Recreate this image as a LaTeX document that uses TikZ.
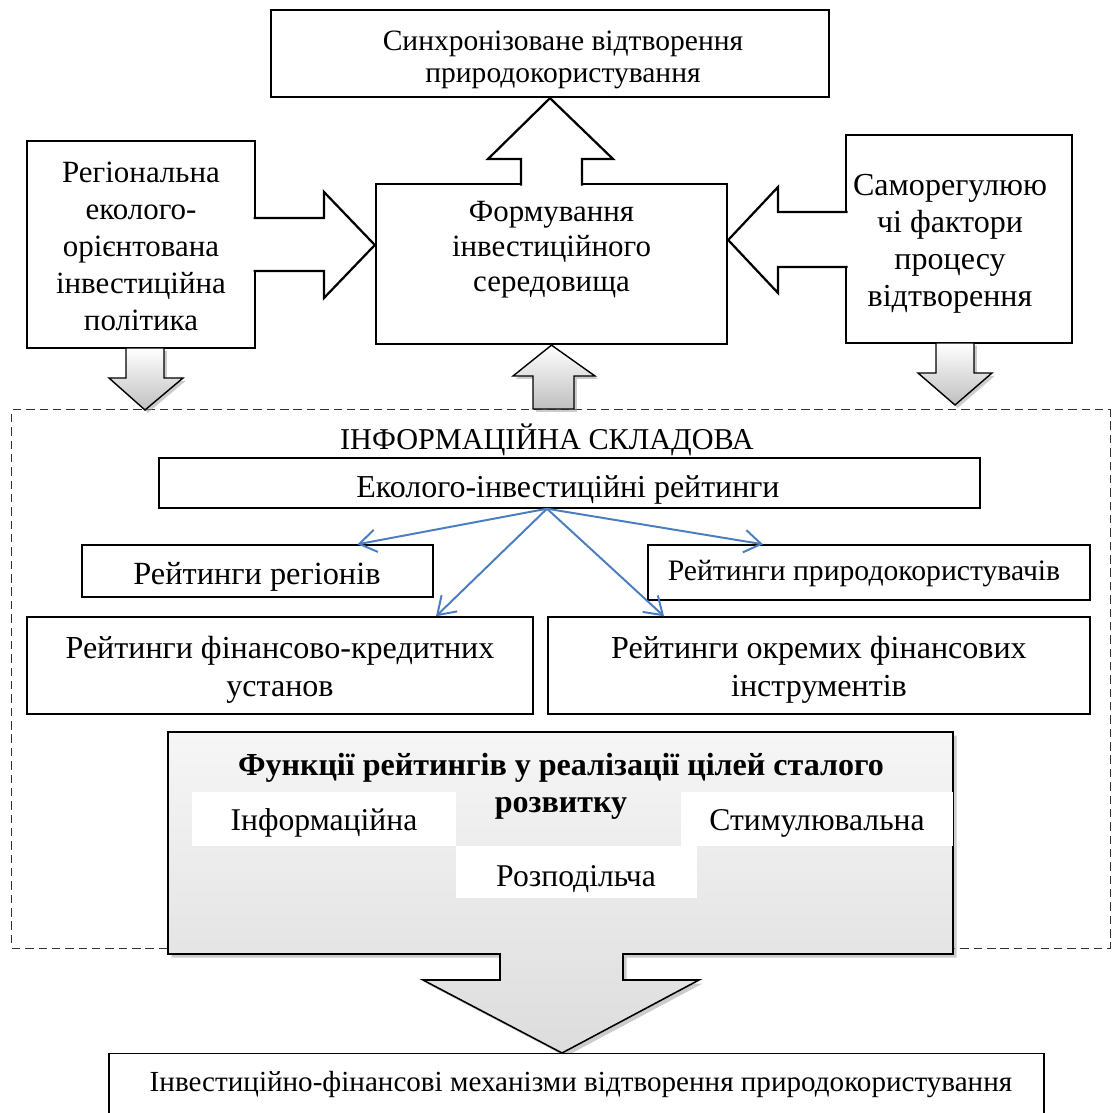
\documentclass[tikz,border=0pt]{standalone}
\usepackage{fontspec}
\setmainfont{Liberation Serif}
\usetikzlibrary{positioning,calc,arrows.meta,shadows}
\definecolor{arrblue}{RGB}{74,126,193}
\tikzset{font=\fontsize{21.5}{25}\selectfont}

\begin{document}
\begin{tikzpicture}[x=0.025cm, y=-0.025cm,
	box/.style={draw, line width=1.6pt, fill=white, inner sep=0pt},
	thinbox/.style={draw, line width=1pt, fill=white, inner sep=0pt},
	txt/.style={align=center, inner sep=0pt},
	whitebox/.style={fill=white, inner sep=0pt},
	fat/.style={draw, line width=1.6pt, fill=white, line join=miter},
	grayarr/.style={draw, line width=1pt, top color=white, bottom color=gray!50,
		drop shadow={shadow xshift=2pt, shadow yshift=-2pt, fill=gray!80, opacity=0.5}},
	funcshape/.style={draw, line width=1.1pt, top color=gray!7, bottom color=gray!27,
		drop shadow={shadow xshift=2.5pt, shadow yshift=-2.5pt, fill=gray!80, opacity=0.5}},
	blue arrow/.style={draw=arrblue, line width=1.4pt, -{Straight Barb[length=12pt,width=16pt]}},
	big/.style={font=\fontsize{22}{26.3}\selectfont}]

	\useasboundingbox (0,0) rectangle (1112,1113);
	\clip (0,0) rectangle (1112,1113);

	\node[draw=black!80, line width=0.7pt, dash pattern=on 6pt off 3.5pt, minimum width=27.45cm, minimum height=13.45cm, inner sep=0pt] (info) at (561,679) {};

	\node[box, minimum width=13.95cm, minimum height=2.175cm] (sync) at (550,53.5) {};
	\node[txt, font=\fontsize{21}{22.5}\selectfont] (synctxt) at (563,60) {Синхронізоване відтворення\\природокористування};
	\node[box, minimum width=8.775cm, minimum height=4cm] (form) at (551.5,264) {};
	\node[txt, font=\fontsize{22}{24.8}\selectfont] (formtxt) at (551.5,250) {Формування\\інвестиційного\\середовища};
	\node[box, minimum width=5.7cm, minimum height=5.175cm] (polit) at (141,244.5) {};
	\node[txt, big] (polittxt) at (141,246) {Регіональна\\еколого-\\орієнтована\\інвестиційна\\політика};
	\node[box, minimum width=5.65cm, minimum height=5.2cm] (selfreg) at (959,239) {};
	\node[txt, font=\fontsize{22.8}{26.3}\selectfont] (selfregtxt) at (950,244) {Саморегулюю\\чі фактори\\процесу\\відтворення};

	\draw[fat] (521,185.5) -- (521,159) -- (488,159) -- (sync.south) -- (613,159) -- (582,159) -- (582,185.5);
	\draw[fat] (253.5,218) -- (324,218) -- (324,192) -- ($(form.west)+(0,-19)$) -- (324,298) -- (324,271) -- (253.5,271);
	\draw[fat] (847.5,212) -- (778,212) -- (778,187) -- ($(form.east)+(0,-24)$) -- (778,293) -- (778,267) -- (847.5,267);

	\draw[grayarr] (126,348) -- (126,378) -- (109,378) -- (145,410) -- (183,378) -- (164,378) -- (164,348) -- cycle;
	\draw[grayarr] (936,343) -- (936,373) -- (918,373) -- (955,405) -- (992,373) -- (974,373) -- (974,343) -- cycle;
	\draw[grayarr] (533,409) -- (533,376) -- (513,376) -- (form.south) -- (595,376) -- (574,376) -- (574,409) -- cycle;

	\node[txt] (infotitle) at (547,440) {ІНФОРМАЦІЙНА СКЛАДОВА};
	\node[thinbox, minimum width=20.525cm, minimum height=1.25cm] (eco) at (569.5,483) {};
	\node[txt, font=\fontsize{22.7}{25}\selectfont] (ecotxt) at (568,490) {Еколого-інвестиційні рейтинги};
	\node[thinbox, minimum width=8.775cm, minimum height=1.3cm] (reg) at (257.5,571) {};
	\node[txt, font=\fontsize{23}{25}\selectfont] (regtxt) at (257,577) {Рейтинги регіонів};
	\node[thinbox, minimum width=11.05cm, minimum height=1.375cm] (users) at (869,572.5) {};
	\node[txt, font=\fontsize{21.1}{25}\selectfont] (userstxt) at (864,574) {Рейтинги природокористувачів};
	\node[thinbox, minimum width=12.65cm, minimum height=2.425cm] (fin) at (280,665.5) {};
	\node[txt, font=\fontsize{22.8}{27}\selectfont] (fintxt) at (280,670) {Рейтинги фінансово-кредитних\\установ};
	\node[thinbox, minimum width=13.55cm, minimum height=2.425cm] (instr) at (819,665.5) {};
	\node[txt, font=\fontsize{22.8}{27}\selectfont] (instrtxt) at (819,670) {Рейтинги окремих фінансових\\інструментів};

	\coordinate (hub) at ($(eco.south)+(-22.5,0)$);
	\foreach \t/\d in {reg/100, fin/156, users/-106, instr/-155}
		\draw[blue arrow] (hub) -- ($(\t.north)+(\d,0)$);

	\path[funcshape] (168,732) -- (953,732) -- (953,954) -- (623,954) -- (623,980) -- (699,980) -- (562,1053) -- (423,980) -- (500,980) -- (500,954) -- (168,954) -- cycle;
	\node[txt, font=\bfseries\fontsize{22.8}{26.5}\selectfont] (functitle) at (561,786) {Функції рейтингів у реалізації цілей сталого\\розвитку};
	\node[whitebox, minimum width=6.6cm, minimum height=1.35cm] (inf) at (324,819) {};
	\node[txt, font=\fontsize{22.5}{25}\selectfont] (inftxt) at (324,823) {Інформаційна};
	\node[whitebox, minimum width=6.8cm, minimum height=1.35cm] (stim) at (817,819) {};
	\node[txt, font=\fontsize{22.5}{25}\selectfont] (stimtxt) at (817,823) {Стимулювальна};
	\node[whitebox, minimum width=6.025cm, minimum height=1.3cm] (distr) at (576.5,872) {};
	\node[txt, font=\fontsize{22.5}{25}\selectfont] (distrtxt) at (576,879) {Розподільча};

	\node[thinbox, minimum width=23.375cm, minimum height=2.2cm, anchor=north] (mech) at (576.5,1053) {};
	\node[txt, font=\fontsize{20.7}{25}\selectfont] (mechtxt) at (581,1085) {Інвестиційно-фінансові механізми відтворення природокористування};
\end{tikzpicture}
\end{document}
